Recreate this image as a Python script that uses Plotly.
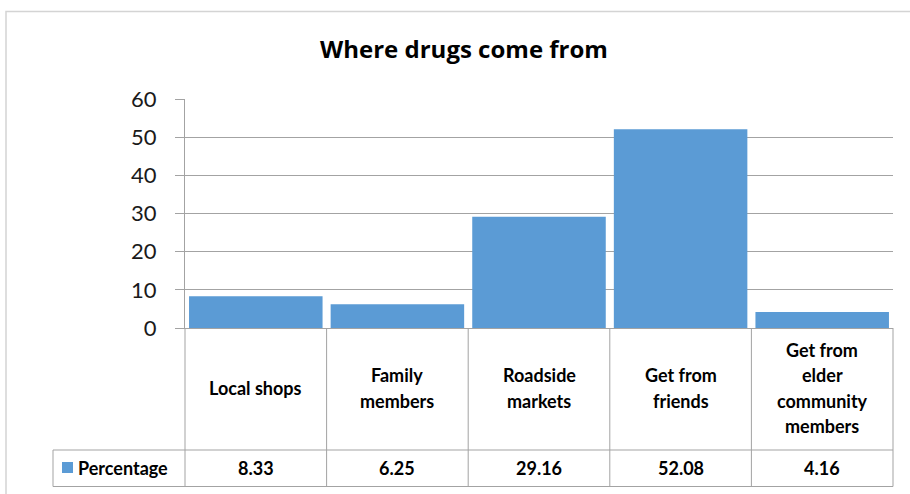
import plotly.graph_objects as go

# Data
categories = [
    "Local shops",
    "Family\nmembers",
    "Roadside\nmarkets",
    "Get from\nfriends",
    "Get from\nelder\ncommunity\nmembers",
]
percentages = [8.33, 6.25, 29.16, 52.08, 4.16]
series_name = "Percentage"
y_ticks = [0, 10, 20, 30, 40, 50, 60]

BAR = "#5B9BD5"
GRID = "#a3a3a3"
FONT = "Lato"

FIG_W, FIG_H = 910, 494
L, R, T, B = 185, 17, 99, 166
PW, PH = FIG_W - L - R, FIG_H - T - B


def px(x):
    """pixel x -> paper x"""
    return (x - L) / PW


def py(y):
    """pixel y -> paper y"""
    return (FIG_H - B - y) / PH


fig = go.Figure(
    go.Bar(
        x=categories,
        y=percentages,
        marker=dict(color=BAR, line=dict(width=0)),
        name=series_name,
        showlegend=False,
    )
)

shapes = []
annotations = []
cell_font = dict(family=FONT, size=18, color="#000", weight="bold")

n = len(categories)
row1_top, row2_top, row2_bot = FIG_H - B, 450, 486.5
table_left = 53

# table grid lines
line = dict(color=GRID, width=1)
for i in range(n + 1):
    shapes.append(dict(type="line", xref="paper", yref="paper",
                       x0=i / n, x1=i / n, y0=py(row1_top), y1=py(row2_bot), line=line))
for yy in (row2_top, row2_bot):
    shapes.append(dict(type="line", xref="paper", yref="paper",
                       x0=px(table_left), x1=1, y0=py(yy), y1=py(yy), line=line))
shapes.append(dict(type="line", xref="paper", yref="paper",
                   x0=px(table_left), x1=px(table_left), y0=py(row2_top), y1=py(row2_bot), line=line))

# legend key in the table
shapes.append(dict(type="rect", xref="paper", yref="paper",
                   x0=px(62), x1=px(73), y0=py(473), y1=py(462),
                   fillcolor=BAR, line=dict(width=0)))
annotations.append(dict(text=series_name, xref="paper", yref="paper",
                        x=px(76), y=py(468), xanchor="left", yanchor="middle",
                        showarrow=False, font=cell_font))

# outer chart border
shapes.append(dict(type="rect", xref="paper", yref="paper",
                   x0=px(6), x1=px(930), y0=py(11.5), y1=py(520),
                   line=dict(color="#d4d4d4", width=1.5), fillcolor="rgba(0,0,0,0)"))

# category header cells and value cells
head_mid = (row1_top + row2_top) / 2 - 1
line_gap = 25.5
for cat, val in zip(categories, percentages):
    lines = cat.split("\n")
    for k, txt in enumerate(lines):
        yc = head_mid + (k - (len(lines) - 1) / 2) * line_gap
        annotations.append(dict(text=txt, xref="x", yref="paper", x=cat, y=py(yc),
                                xanchor="center", yanchor="middle", showarrow=False,
                                font=cell_font))
    annotations.append(dict(text=f"{val:.2f}", xref="x", yref="paper", x=cat,
                            y=py((row2_top + row2_bot) / 2),
                            xanchor="center", yanchor="middle", showarrow=False,
                            font=cell_font))

fig.update_layout(
    width=FIG_W,
    height=FIG_H,
    margin=dict(l=L, r=R, t=T, b=B, pad=0),
    paper_bgcolor="white",
    plot_bgcolor="white",
    bargap=0.057,
    title=dict(text="<b>Where drugs come from</b>", xref="container", yref="container",
               x=464 / FIG_W, y=1 - 50 / FIG_H, xanchor="center", yanchor="middle",
               font=dict(family="Open Sans", size=24, color="#000")),
    xaxis=dict(range=[-0.5, n - 0.5], showticklabels=False, ticks="",
               showgrid=False, showline=True, linecolor=GRID, linewidth=1,
               zeroline=False, fixedrange=True),
    yaxis=dict(range=[0, 60], tickvals=y_ticks, showgrid=True, gridcolor=GRID,
               gridwidth=1, showline=True, linecolor=GRID, linewidth=1,
               ticks="outside", ticklen=9, tickcolor=GRID, tickwidth=1,
               ticklabelstandoff=14, zeroline=False,
               tickfont=dict(family=FONT, size=22, color="#1a1a1a"), fixedrange=True),
    shapes=shapes,
    annotations=annotations,
    font=dict(family=FONT),
)

fig.write_html("out.html")
